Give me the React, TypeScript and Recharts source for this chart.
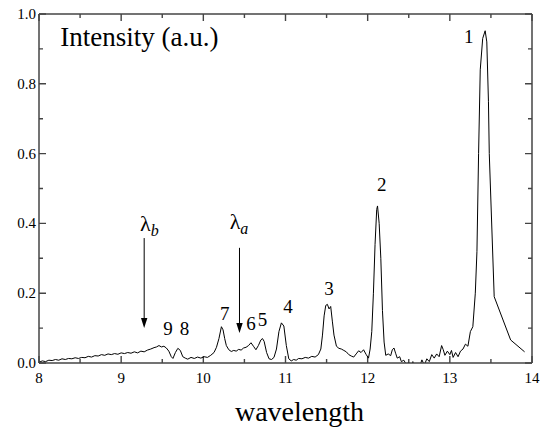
import React from "react";
import {
  LineChart,
  Line,
  XAxis,
  YAxis,
  ReferenceDot,
  ReferenceLine,
} from "recharts";

// spectrum
const wavelength = [
  8.0, 8.04, 8.08, 8.12, 8.16, 8.2, 8.24, 8.28, 8.32, 8.36, 8.4, 8.44, 8.48,
  8.52, 8.56, 8.6, 8.64, 8.68, 8.72, 8.76, 8.8, 8.84, 8.88, 8.92, 8.96, 9.0,
  9.04, 9.08, 9.12, 9.16, 9.2, 9.24, 9.28, 9.32, 9.36, 9.4, 9.43, 9.46, 9.49,
  9.52, 9.55, 9.58, 9.61, 9.63, 9.66, 9.69, 9.72, 9.75, 9.78, 9.81, 9.85, 9.89,
  9.93, 9.97, 10.01, 10.05, 10.09, 10.13, 10.16, 10.19, 10.22, 10.24, 10.26,
  10.28, 10.31, 10.34, 10.37, 10.4, 10.43, 10.46, 10.49, 10.52, 10.55, 10.58,
  10.61, 10.64, 10.67, 10.7, 10.72, 10.74, 10.77, 10.8, 10.83, 10.86, 10.89,
  10.92, 10.95, 10.98, 11.01, 11.04, 11.07, 11.1, 11.13, 11.16, 11.2, 11.24,
  11.28, 11.32, 11.36, 11.4, 11.43, 11.45, 11.47, 11.49, 11.51, 11.53, 11.55,
  11.57, 11.59, 11.62, 11.65, 11.68, 11.71, 11.74, 11.77, 11.8, 11.83, 11.86,
  11.89, 11.92, 11.95, 11.98, 12.01, 12.03, 12.05, 12.07, 12.09, 12.11, 12.12,
  12.14, 12.16, 12.18, 12.2, 12.22, 12.25, 12.28, 12.3, 12.32, 12.34, 12.36,
  12.39, 12.41, 12.44, 12.47, 12.5, 12.53, 12.55, 12.58, 12.6, 12.63, 12.66,
  12.69, 12.72, 12.75, 12.78, 12.81, 12.84, 12.87, 12.9, 12.92, 12.94, 12.97,
  13.0, 13.02, 13.04, 13.07, 13.1, 13.13, 13.16, 13.19, 13.22, 13.25, 13.28,
  13.31, 13.33, 13.35, 13.37, 13.4, 13.43, 13.45, 13.47, 13.48, 13.54, 13.74,
  13.91,
];

const intensity = [
  0.002, 0.006, 0.004, 0.008, 0.007, 0.01, 0.008, 0.012, 0.01, 0.013, 0.012,
  0.015, 0.013, 0.016, 0.015, 0.019, 0.017, 0.021, 0.02, 0.024, 0.022, 0.026,
  0.024, 0.027, 0.025, 0.029, 0.027, 0.03, 0.028, 0.032, 0.029, 0.034, 0.032,
  0.037, 0.04, 0.044, 0.046, 0.05, 0.046, 0.048, 0.043, 0.034, 0.018, 0.013,
  0.03, 0.042, 0.036, 0.018, 0.014, 0.011, 0.016, 0.013, 0.017, 0.014, 0.018,
  0.016, 0.022, 0.03, 0.045, 0.07, 0.104, 0.095, 0.07, 0.05, 0.038, 0.033,
  0.036, 0.034, 0.039, 0.037, 0.043, 0.045, 0.05, 0.058, 0.048, 0.038, 0.05,
  0.066, 0.07, 0.062, 0.03, 0.012, 0.01, 0.016, 0.04, 0.09, 0.115, 0.106, 0.05,
  0.012, 0.006, 0.01, 0.008, 0.013, 0.012, 0.016, 0.014, 0.019, 0.017, 0.024,
  0.04, 0.08, 0.135, 0.165, 0.168, 0.155, 0.162, 0.12, 0.08, 0.048, 0.042,
  0.04, 0.036, 0.032, 0.024, 0.02, 0.017, 0.026, 0.035, 0.03, 0.038, 0.025,
  0.014, 0.04, 0.09, 0.2, 0.34, 0.44, 0.45, 0.4, 0.3, 0.15, 0.06, 0.022, 0.026,
  0.021, 0.038, 0.043, 0.028, 0.014, 0.018, 0.004, 0.008, -0.004, 0.002,
  -0.008, 0.004, -0.015, -0.002, -0.012, 0.009, -0.006, 0.012, 0.004, 0.024,
  0.014, 0.026, 0.018, 0.05, 0.038, 0.022, 0.034, 0.024, 0.036, 0.016, 0.03,
  0.018, 0.034, 0.04, 0.054, 0.048, 0.09, 0.104, 0.2, 0.32, 0.6, 0.84, 0.93,
  0.952, 0.92, 0.75, 0.6, 0.19, 0.066, 0.032,
];

const xTicks = [8, 8.5, 9, 9.5, 10, 10.5, 11, 11.5, 12, 12.5, 13, 13.5, 14];
const yTicks = [0, 0.1, 0.2, 0.3, 0.4, 0.5, 0.6, 0.7, 0.8, 0.9, 1.0];

// peak numbers
const peakNames = ["1", "2", "3", "4", "5", "6", "7", "8", "9"];
const peakNameX = [13.23, 12.17, 11.53, 11.03, 10.72, 10.58, 10.26, 9.77, 9.57];
const peakNameY = [0.917, 0.493, 0.195, 0.143, 0.106, 0.095, 0.123, 0.08, 0.08];

// lambda arrows
const arrowNames = ["b", "a"];
const arrowX = [9.28, 10.44];
const arrowTop = [0.358, 0.33];
const arrowTip = [0.1, 0.086];
const arrowTextX = [9.23, 10.32];
const arrowTextY = [0.378, 0.384];

const data = wavelength.map((w, i) => ({ w, v: intensity[i] }));

const W = 541;
const H = 430;
const MARGIN = { top: 14, right: 9, bottom: 37, left: 0 };
const Y_AXIS_W = 39;
const X_AXIS_H = 30;
const PLOT_W = W - MARGIN.left - MARGIN.right - Y_AXIS_W;

const FONT = "'Liberation Serif', 'Times New Roman', serif";
const AXIS = "#444";

const isMajorY = (v: number) => Math.round(v * 10) % 2 === 0;

const XTickLabel = ({ x, y, payload }: any) =>
  Number.isInteger(payload.value) ? (
    <text x={x} y={y + 20} textAnchor="middle" fontSize={15} fontFamily={FONT} fill="#000">
      {payload.value}
    </text>
  ) : (
    <g />
  );

const YTickLabel = ({ x, y, payload }: any) =>
  isMajorY(payload.value) ? (
    <text x={x - 3} y={y + 5} textAnchor="end" fontSize={15} fontFamily={FONT} fill="#000">
      {payload.value.toFixed(1)}
    </text>
  ) : (
    <g />
  );

// inward tick marks at both ends of a full-span segment
const tickPair = (len: number, vertical: boolean) => (p: any) => {
  const { x1, y1, x2, y2 } = p;
  return vertical ? (
    <path
      d={`M${x1},${y1}L${x1},${y1 - len}M${x2},${y2}L${x2},${y2 + len}`}
      stroke={AXIS}
      strokeWidth={1.4}
      fill="none"
    />
  ) : (
    <path
      d={`M${x1},${y1}L${x1 + len},${y1}M${x2},${y2}L${x2 - len},${y2}`}
      stroke={AXIS}
      strokeWidth={1.4}
      fill="none"
    />
  );
};

const Arrow = (props: any) => {
  const { x1, y1, x2, y2 } = props;
  return (
    <g>
      <line x1={x1} y1={y1} x2={x2} y2={y2 - 8} stroke="#000" strokeWidth={1} />
      <polygon points={`${x2},${y2} ${x2 - 3.2},${y2 - 10} ${x2 + 3.2},${y2 - 10}`} fill="#000" />
    </g>
  );
};

export default function App() {
  return (
    <div style={{ position: "absolute", left: 0, top: 0, background: "#fff" }}>
      <LineChart width={W} height={H} data={data} margin={MARGIN}>
        <XAxis
          dataKey="w"
          type="number"
          domain={[8, 14]}
          ticks={xTicks}
          interval={0}
          allowDataOverflow
          tickLine={false}
          tickSize={0}
          tickMargin={0}
          height={X_AXIS_H}
          axisLine={{ stroke: AXIS, strokeWidth: 1.5 }}
          tick={<XTickLabel />}
          label={{
            content: (p: any) => {
              const vb = p.viewBox || { x: Y_AXIS_W, y: H - MARGIN.bottom - X_AXIS_H, width: PLOT_W };
              return (
                <text
                  x={vb.x + vb.width / 2 + 14}
                  y={vb.y + 58}
                  textAnchor="middle"
                  fontSize={28}
                  fontFamily={FONT}
                  fill="#000"
                >
                  wavelength
                </text>
              );
            },
          }}
        />
        <YAxis
          type="number"
          domain={[0, 1]}
          ticks={yTicks}
          interval={0}
          allowDataOverflow
          tickLine={false}
          tickSize={0}
          tickMargin={0}
          width={Y_AXIS_W}
          axisLine={{ stroke: AXIS, strokeWidth: 1.5 }}
          tick={<YTickLabel />}
        />
        {/* top and right frame */}
        <ReferenceLine y={1} stroke={AXIS} strokeWidth={1.5} ifOverflow="visible" />
        <ReferenceLine x={14} stroke={AXIS} strokeWidth={1.5} ifOverflow="visible" />
        {xTicks.map((t) => (
          <ReferenceLine
            key={`xt-${t}`}
            ifOverflow="visible"
            segment={[
              { x: t, y: 0 },
              { x: t, y: 1 },
            ]}
            shape={tickPair(Number.isInteger(t) ? 7 : 4, true)}
          />
        ))}
        {yTicks.map((t) => (
          <ReferenceLine
            key={`yt-${t}`}
            ifOverflow="visible"
            segment={[
              { x: 8, y: t },
              { x: 14, y: t },
            ]}
            shape={tickPair(isMajorY(t) ? 7 : 4, false)}
          />
        ))}
        <Line
          dataKey="v"
          type="linear"
          stroke="#000"
          strokeWidth={1}
          dot={false}
          isAnimationActive={false}
        />
        {arrowX.map((ax, i) => (
          <ReferenceLine
            key={`arrow-${i}`}
            segment={[
              { x: ax, y: arrowTop[i] },
              { x: ax, y: arrowTip[i] },
            ]}
            shape={<Arrow />}
          />
        ))}
        {arrowNames.map((n, i) => (
          <ReferenceDot
            key={`lam-${i}`}
            x={arrowTextX[i]}
            y={arrowTextY[i]}
            r={0}
            shape={(p: any) => (
              <text x={p.cx} y={p.cy} fontFamily={FONT} fontSize={22} fill="#000">
                λ
                <tspan fontSize={16} fontStyle="italic" dy={5}>
                  {n}
                </tspan>
              </text>
            )}
          />
        ))}
        {peakNames.map((n, i) => (
          <ReferenceDot
            key={`peak-${i}`}
            x={peakNameX[i]}
            y={peakNameY[i]}
            r={0}
            shape={(p: any) => (
              <text x={p.cx} y={p.cy} textAnchor="middle" fontFamily={FONT} fontSize={19} fill="#000">
                {n}
              </text>
            )}
          />
        ))}
        <ReferenceDot
          x={8.26}
          y={0.908}
          r={0}
          shape={(p: any) => (
            <text x={p.cx} y={p.cy} fontFamily={FONT} fontSize={27} fill="#000">
              Intensity (a.u.)
            </text>
          )}
        />
      </LineChart>
    </div>
  );
}
